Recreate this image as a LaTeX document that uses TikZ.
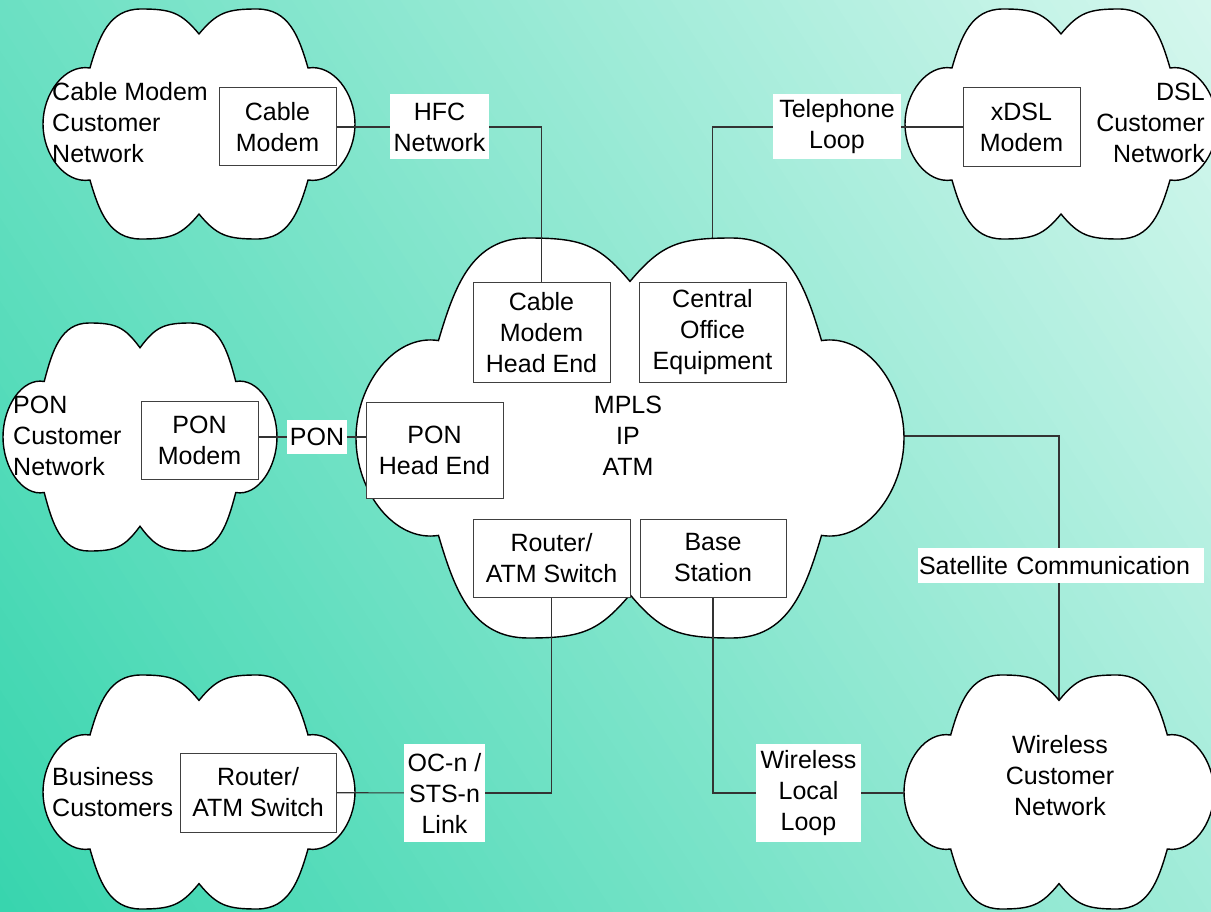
\documentclass[tikz,border=0pt]{standalone}
\usepackage{fontspec}
\setmainfont{Liberation Sans}
\usetikzlibrary{positioning, backgrounds}
\definecolor{bgdark}{RGB}{56,213,174}
\definecolor{bglight}{RGB}{214,247,238}
\tikzset{%
	link/.style = {draw = black!80, line width = 1.1pt},
	hv/.style = {to path = {-| (\tikztotarget)}},
	vh/.style = {to path = {|- (\tikztotarget)}},
	box/.style = {draw = black!75, fill = white, line width = 1pt, align = center, inner sep = 0pt},
	tag/.style = {fill = white, align = center, inner sep = 0pt},
	txt/.style = {inner sep = 0pt},
	netcloud/.pic = {
		\filldraw [fill = white, draw = black, line width = 1.4pt] (0,0.783)
			.. controls (-0.115,0.970) and (-0.179,1) .. (-0.372,1)
			.. controls (-0.577,1) and (-0.640,0.760) .. (-0.699,0.487)
			.. controls (-0.859,0.522) and (-1,0.270) .. (-1,0)
			.. controls (-1,-0.270) and (-0.859,-0.522) .. (-0.699,-0.487)
			.. controls (-0.640,-0.760) and (-0.577,-1) .. (-0.372,-1)
			.. controls (-0.179,-1) and (-0.115,-0.970) .. (0,-0.783)
			.. controls (0.115,-0.970) and (0.179,-1) .. (0.372,-1)
			.. controls (0.577,-1) and (0.640,-0.760) .. (0.699,-0.487)
			.. controls (0.859,-0.522) and (1,-0.270) .. (1,0)
			.. controls (1,0.270) and (0.859,0.522) .. (0.699,0.487)
			.. controls (0.640,0.760) and (0.577,1) .. (0.372,1)
			.. controls (0.179,1) and (0.115,0.970) .. (0,0.783) -- cycle;
		\coordinate (-n) at (0,-0.783);
		\coordinate (-w) at (-1,0);
		\coordinate (-e) at (1,0);
	}
}
\begin{document}
\begin{tikzpicture}[x=1pt, y=-1pt, font=\fontsize{25pt}{31pt}\selectfont]
			\useasboundingbox (0,0) rectangle (1211,912);
			\begin{scope}[on background layer]
				\clip (0,0) rectangle (1211,912);
				\foreach \i in {0,...,99}
					\fill [bglight!\i!bgdark, rotate around = {33:(0,912)}] ({\i*15.13},0) rectangle ++(16.2,1600);
			\end{scope}
			\pic [xscale = 156, yscale = 115] (cab) at (199,124) {netcloud};
			\pic [xscale = 156, yscale = 115] (dsl) at (1061,124) {netcloud};
			\pic [xscale = 137, yscale = 114] (ponc) at (140,437) {netcloud};
			\pic [xscale = 274, yscale = 200] (core) at (630,438) {netcloud};
			\pic [xscale = 156, yscale = 117] (biz) at (199,792) {netcloud};
			\pic [xscale = 155, yscale = 117] (wless) at (1059,792) {netcloud};
			\node [txt, anchor = west, align = left] (cabtxt) at (52,123) {Cable Modem\\Customer\\Network};
			\node [txt, anchor = east, align = right] (dsltxt) at (1205,123) {DSL\\Customer\\Network};
			\node [txt, anchor = west, align = left] (pontxt) at (13,436) {PON\\Customer\\Network};
			\node [txt, align = center] (mpls) at (628,436) {MPLS\\IP\\ATM};
			\node [txt, anchor = west, align = left] (biztxt) at (52,792) {Business\\Customers};
			\node [txt, align = center] (wltxt) at (1060,776) {Wireless\\Customer\\Network};
			\node [box, minimum width = 117pt, minimum height = 78pt] (cmod) at (277.5,127) {Cable\\Modem};
			\node [box, minimum width = 117pt, minimum height = 79pt] (xdsl) at (1021.5,127) {xDSL\\Modem};
			\node [box, minimum width = 137pt, minimum height = 99pt] (cmhe) at (541.5,332.5) {Cable\\Modem\\Head End};
			\node [box, minimum width = 147pt, minimum height = 99pt] (co) at (712.5,332.5) {Central\\Office\\Equipment};
			\node [box, minimum width = 137pt, minimum height = 96pt] (ponhe) at (434.5,450) {PON\\Head End};
			\node [box, minimum width = 157pt, minimum height = 78pt] (rtr) at (551.5,558) {Router/\\ATM Switch};
			\node [box, minimum width = 146pt, minimum height = 78pt] (base) at (713,558) {Base\\Station};
			\node [box, minimum width = 117pt, minimum height = 78pt] (ponmod) at (199.5,440) {PON\\Modem};
			\node [box, minimum width = 156pt, minimum height = 79pt] (brtr) at (258,792.5) {Router/\\ATM Switch};
			\node [tag, minimum width = 99pt, minimum height = 65pt] (hfc) at (439.5,127) {HFC\\Network};
			\node [tag, minimum width = 128pt, minimum height = 65pt] (tel) at (837,127) {Telephone\\Loop};
			\node [tag, minimum width = 60pt, minimum height = 34pt] (pon) at (317,437) {PON};
			\node [tag, minimum width = 286pt, minimum height = 35pt, text width = 284pt, align = left] (sat) at (1061,565.5) {Satellite Communication};
			\node [tag, minimum width = 81pt, minimum height = 98pt] (ocn) at (444.5,793) {OC-n /\\STS-n\\Link};
			\node [tag, minimum width = 105pt, minimum height = 98pt] (wll) at (808.5,793) {Wireless\\Local\\Loop};
			\path [link] (cmod) edge (hfc);
			\path [link] (hfc) edge [hv] (cmhe);
			\path [link] (tel) edge (xdsl);
			\path [link] (ponmod.east |- pon) edge (pon);
			\path [link] (pon) edge (pon -| ponhe.west);
			\path [link] (rtr) edge [vh] (ocn);
			\path [link] (ocn) edge (brtr);
			\path [link] (base) edge [vh] (wll);
			\path [link] (wll) edge (wll -| wless-w);
			\begin{scope}[on background layer]
				\path [link] (co) edge [vh] (tel);
				\path [link] (mpls) edge [hv] (wless-n);
			\end{scope}
\end{tikzpicture}
\end{document}
